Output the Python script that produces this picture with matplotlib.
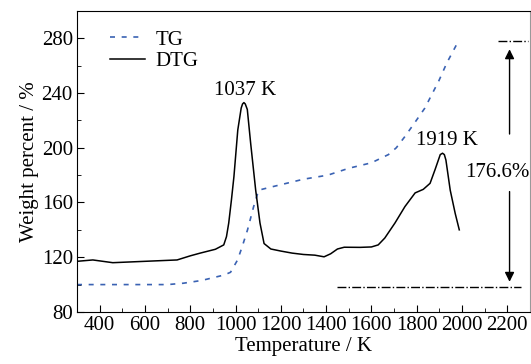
import matplotlib.pyplot as plt
from matplotlib.ticker import MultipleLocator

# TG curve (blue dashed)
tg_temp = [300, 500, 700, 770, 850, 900, 950, 978, 1009, 1030, 1053, 1080, 1102, 1150,
           1200, 1300, 1408, 1500, 1600, 1675, 1710, 1747, 1790, 1836, 1898, 1933, 1978]
tg_val = [100, 100, 100, 101, 103, 105, 107, 109, 118, 128, 140, 157, 169, 171,
          173, 177, 180, 185, 189, 195, 200, 208, 218, 229, 249, 262, 276]

# DTG curve (black solid)
dtg_temp = [300, 370, 458, 600, 742, 800, 844, 911, 948, 960, 970, 982, 993, 1010, 1025,
            1031, 1037, 1043, 1052, 1067, 1089, 1108, 1126, 1156, 1200, 1250, 1300,
            1350, 1391, 1420, 1450, 1480, 1550, 1600, 1630, 1659, 1704, 1748, 1793,
            1829, 1859, 1881, 1904, 1914, 1922, 1929, 1948, 1970, 1988]
dtg_val = [117, 118, 116, 117, 118, 121, 123, 125.8, 129, 135, 145, 162, 179, 213, 229,
           232, 233, 232, 228, 203, 169, 145, 130, 126, 124.5, 123, 122,
           121.5, 120.3, 122.5, 126, 127.3, 127.2, 127.5, 129, 134, 145, 157, 167,
           169.6, 174, 184, 195, 196, 195, 191, 169, 152, 140]

plt.rcParams["font.family"] = ["Liberation Serif", "DejaVu Serif"]
plt.rcParams["font.size"] = 15

fig = plt.figure(figsize=(5.31, 3.64), dpi=100)
ax = fig.add_axes([0.145, 0.143, 0.853, 0.827])

ax.plot(tg_temp, tg_val, color="#3a62b3", linestyle=(0, (3, 4)), linewidth=1.2, label="TG")
ax.plot(dtg_temp, dtg_val, color="black", linewidth=1.1, label="DTG")

# peak labels
ax.text(1044, 242, "1037 K", ha="center", va="center")
ax.text(1933, 205, "1919 K", ha="center", va="center")
ax.text(2155, 182, "176.6%", ha="center", va="center")

# mass gain arrows
ax.plot([2160, 2293], [278, 278], color="black", linestyle="-.", linewidth=1)
ax.plot([1449, 2262], [98, 98], color="black", linestyle="-.", linewidth=1)
ax.annotate("", xy=(2210, 274), xytext=(2210, 208),
            arrowprops=dict(arrowstyle="-|>", color="black", lw=1, mutation_scale=14))
ax.annotate("", xy=(2210, 100), xytext=(2210, 170),
            arrowprops=dict(arrowstyle="-|>", color="black", lw=1, mutation_scale=14))

ax.set_xlim(300, 2300)
ax.set_ylim(80, 300)
ax.xaxis.set_major_locator(MultipleLocator(200))
ax.xaxis.set_minor_locator(MultipleLocator(100))
ax.yaxis.set_major_locator(MultipleLocator(40))
ax.yaxis.set_minor_locator(MultipleLocator(20))
ax.tick_params(which="both", direction="in", top=False, right=False)
ax.tick_params(which="major", length=5, pad=3)
ax.tick_params(which="minor", length=3)
ax.spines["right"].set_color("#999999")

ax.set_xlabel("Temperature / K", labelpad=1)
ax.set_ylabel("Weight percent / %", labelpad=2)

ax.legend(loc="upper left", bbox_to_anchor=(0.04, 0.985), frameon=False,
          handlelength=1.7, labelspacing=0.1, borderpad=0.2, handletextpad=0.5)

fig.savefig("out.png", dpi=100)
